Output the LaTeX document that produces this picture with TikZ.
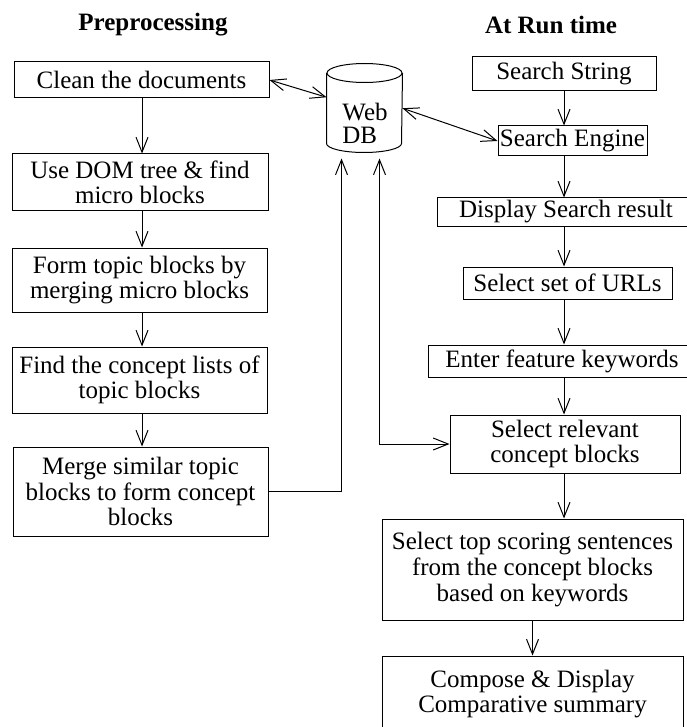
\documentclass[tikz,border=0pt]{standalone}
\usepackage{fontspec}
\setmainfont{Liberation Serif}
\usetikzlibrary{arrows.meta, calc}

\begin{document}
\begin{tikzpicture}[x=0.5pt, y=-0.5pt, line width=0.5pt,
    box/.style={draw, inner sep=0pt, align=center, font=\fontsize{12.5}{12.8}\selectfont},
    flow/.style={-{Straight Barb[length=7.5pt,width=6pt]}},
    both/.style={{Straight Barb[length=7.5pt,width=6pt]}-{Straight Barb[length=7.5pt,width=6pt]}}]
    \useasboundingbox (0,0) rectangle (686,727);

    \node[font=\fontsize{12.5}{13}\selectfont\bfseries] (pre) at (153,25) {Preprocessing};
    \node[font=\fontsize{12.5}{13}\selectfont\bfseries] (run) at (551,25) {At Run time};

    % preprocessing column
    \node[box, minimum width=127.5pt, minimum height=18pt] (clean) at (141.5,80) {Clean the documents};
    \node[box, minimum width=128pt, minimum height=28.5pt] (dom) at (140,182.5) {Use DOM tree \& find\\micro blocks};
    \node[box, minimum width=127.5pt, minimum height=32pt] (form) at (139.5,280) {Form topic blocks by\\merging micro blocks};
    \node[box, minimum width=127.5pt, minimum height=33pt] (find) at (139.5,380) {Find the concept lists of\\topic blocks};
    \node[box, minimum width=127.5pt, minimum height=44.5pt] (merge) at (140.5,491.5) {Merge similar topic\\blocks to form concept\\blocks};

    % web db
    \node[inner sep=0pt, minimum width=37.5pt, minimum height=34.75pt] (db) at (364.5,108.25) {};
    \draw (db.north west) -- (db.south west)
        arc[start angle=180, end angle=360, x radius=18.75pt, y radius=4.5pt] -- (db.north east);
    \draw (db.north) ellipse [x radius=18.75pt, y radius=4.75pt];
    \node[inner sep=0pt, align=left, font=\fontsize{12.5}{11.5}\selectfont] (dbtext) at (365,123) {Web\\DB};

    % run time column
    \node[box, minimum width=92pt, minimum height=17pt] (ss) at (564,74) {Search String};
    \node[box, minimum width=74.5pt, minimum height=15pt] (se) at (572.5,141) {Search Engine};
    \node[box, minimum width=129pt, minimum height=14pt] (dsr) at (566,212) {Display Search result};
    \node[box, minimum width=104.5pt, minimum height=16pt] (urls) at (567.5,283) {Select set of URLs};
    \node[box, minimum width=134pt, minimum height=16pt] (efk) at (562,361) {Enter feature keywords};
    \node[box, minimum width=115pt, minimum height=29pt] (src) at (565,444) {Select relevant\\concept blocks};
    \node[box, minimum width=150.5pt, minimum height=50.5pt] (sts) at (532.5,569.5) {Select top scoring sentences\\from the concept blocks\\based on keywords};
    \node[box, minimum width=150.5pt, minimum height=38pt] (cds) at (532.5,694) {Compose \& Display\\Comparative summary};

    \coordinate (lx) at (142,0);
    \coordinate (rx) at (564,0);
    \coordinate (dbl) at ($(db.south west)+(15,15)$);
    \coordinate (dbr) at ($(db.south west)+(53,15)$);

    \draw[flow] (clean.south -| lx) -- (dom.north -| lx);
    \draw[flow] (dom.south -| lx) -- (form.north -| lx);
    \draw[flow] (form.south -| lx) -- (find.north -| lx);
    \draw[flow] (find.south -| lx) -- (merge.north -| lx);

    \draw[flow] (ss.south -| rx) -- (se.north -| rx);
    \draw[flow] (se.south -| rx) -- (dsr.north -| rx);
    \draw[flow] (dsr.south -| rx) -- (urls.north -| rx);
    \draw[flow] (urls.south -| rx) -- (efk.north -| rx);
    \draw[flow] (efk.south -| rx) -- (src.north -| rx);
    \draw[flow] (src.south -| rx) -- (sts.north -| rx);
    \draw[flow] (sts.south) -- (cds.north);

    \draw[both] (clean.east) -- ([yshift=5.5pt]db.west);
    \draw[both] (db.east) -- (se.west);
    \draw[flow] (merge.east) -| (dbl);
    \draw[both] (dbr) |- (src.west);
\end{tikzpicture}
\end{document}
